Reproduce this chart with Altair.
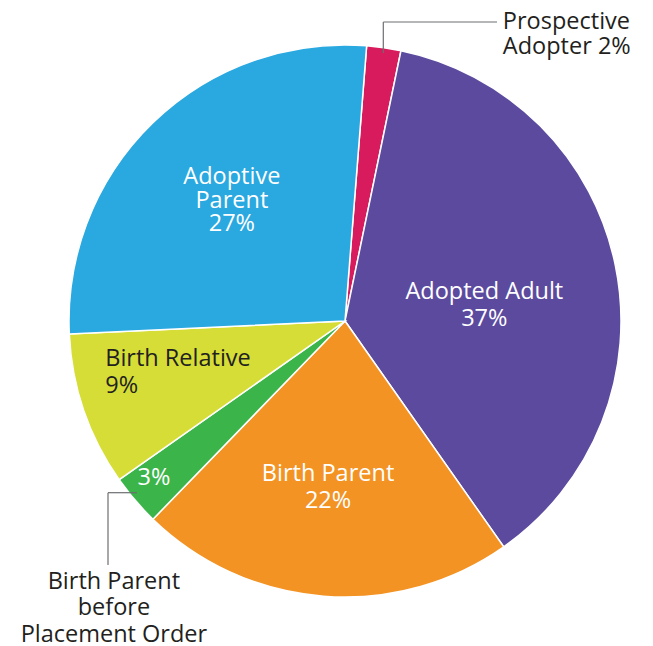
import json
import altair as alt
import pandas as pd

# ---- data ----
categories = ["Prospective Adopter", "Adopted Adult", "Birth Parent",
              "Birth Parent before Placement Order", "Birth Relative", "Adoptive Parent"]
values = [2, 37, 22, 3, 9, 27]
inner_labels = ["", "Adopted Adult\n37%", "Birth Parent\n22%", "3%",
                "Birth Relative\n9%", "Adoptive\nParent\n27%"]
outer_labels = ["Prospective\nAdopter 2%", "", "",
                "Birth Parent\nbefore\nPlacement Order", "", ""]
colors = ["#D81B5C", "#5C4A9F", "#F39324", "#3BB54A", "#D6DD36", "#2AA8E0"]

df = pd.DataFrame({
    "category": categories,
    "value": values,
    "order": list(range(len(categories))),
    "inner": inner_labels,
    "outer": outer_labels,
})

# ---- layout / style ----
W, H = 637, 638
CX, CY = 337, 313
R = 276
START = 0.0785  # rotation of first slice (radians)
TWO_PI = 6.283185307
FONT = "Open Sans"
FS = 23.5
DARK = "#231F20"
LEADER = "#6D6E71"

theta_scale = alt.Scale(range=[START, START + TWO_PI])

base = alt.Chart(df).encode(
    theta=alt.Theta("value:Q", stack=True, scale=theta_scale),
    order=alt.Order("order:Q"),
    x=alt.value(CX),
    y=alt.value(CY),
)

pie = base.mark_arc(outerRadius=R, stroke="white", strokeWidth=1.5).encode(
    color=alt.Color("category:N", scale=alt.Scale(domain=categories, range=colors), legend=None)
)


def label_layer(cat, field, radius, align="center", dx=0, dy=0, color="white", line_height=25):
    expr = f"datum.category == {json.dumps(cat)} ? datum.{field} : ''"
    return base.transform_calculate(lbl=expr).mark_text(
        radius=radius, align=align, baseline="middle", dx=dx, dy=dy,
        font=FONT, fontSize=FS, color=color, lineBreak="\n", lineHeight=line_height,
    ).encode(text="lbl:N")


layers = [
    pie,
    label_layer("Adopted Adult", "inner", 128, dx=14, dy=-3, line_height=26.5),
    label_layer("Birth Parent", "inner", 165, dx=-4, dy=-11, line_height=27),
    label_layer("Birth Parent before Placement Order", "inner", 246, dx=-4, dy=-3),
    label_layer("Birth Relative", "inner", 245, align="left", dx=-8, dy=-41, color=DARK, line_height=27),
    label_layer("Adoptive Parent", "inner", 164, dx=1, dy=-26, line_height=23.5),
    label_layer("Prospective Adopter", "outer", 290, align="left", dx=117, dy=-12, color=DARK),
    label_layer("Birth Parent before Placement Order", "outer", 300, dx=-3, dy=66, color=DARK, line_height=26.5),
]

# leader lines (annotation)
def rule(x1, y1, x2, y2):
    return alt.Chart(pd.DataFrame({"k": [0]})).mark_rule(color=LEADER, strokeWidth=1.2).encode(
        x=alt.value(x1), y=alt.value(y1), x2=alt.value(x2), y2=alt.value(y2)
    )

layers += [
    rule(375.3, 45, 375.3, 14),
    rule(375.3, 14, 489, 14),
    rule(129, 484.7, 100, 484.7),
    rule(100, 484.7, 100, 557),
]

chart = alt.layer(*layers).properties(
    width=W, height=H, padding=0,
    autosize=alt.AutoSizeParams(type="none"),
).configure_view(stroke=None)

chart.save("out.html", embed_options={"renderer": "svg", "actions": False})
